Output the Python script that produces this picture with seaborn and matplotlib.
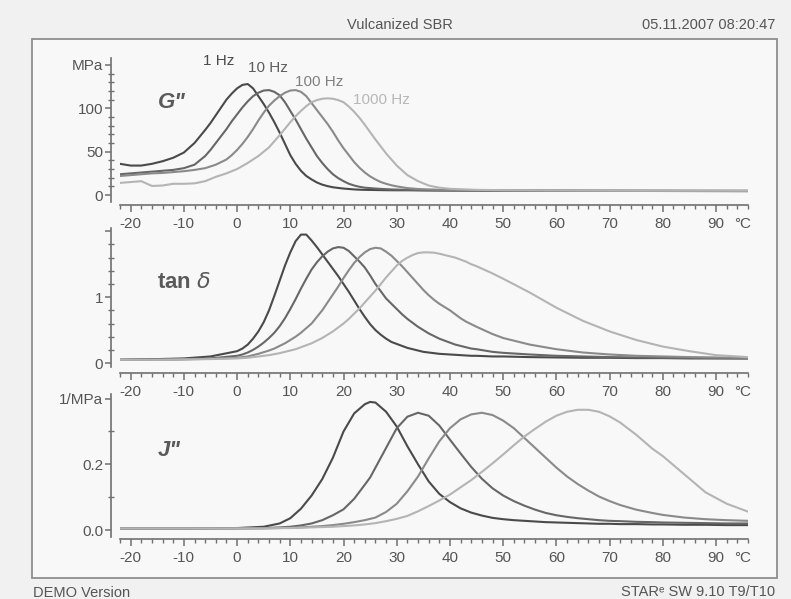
import numpy as np
import pandas as pd
import matplotlib
matplotlib.use("Agg")
import matplotlib.pyplot as plt
import seaborn as sns
from matplotlib.patches import Rectangle
from matplotlib.ticker import MultipleLocator, FixedLocator, FixedFormatter

# ---------------- data ----------------
freqs = ["1 Hz", "10 Hz", "100 Hz", "1000 Hz"]

# G'' (MPa)
T_g = ([-22, -20, -18, -16, -14, -12, -10, -8, -6]
       + [-5, -4, -3, -2, -1, 0, 1, 2, 3, 4, 5, 6, 7, 8, 9, 10, 11, 12, 13, 14, 15, 16, 17, 18, 19,
          20, 21, 22, 23, 24, 25, 26, 27, 28, 29, 30]
       + [32, 34, 36, 38, 40, 45, 50, 60, 70, 80, 96])
g_1hz = ([36, 34, 34, 36, 39, 43, 49, 60, 75]
         + [83, 92, 101, 110, 117, 123, 127, 128, 123, 114, 105, 95, 84, 72, 59, 46, 36, 28, 22, 18,
            14.5, 12, 10.3, 9, 8.2, 7.5, 7, 6.5, 6.2, 6, 5.9, 5.8, 5.7, 5.6, 5.55, 5.5]
         + [5.5, 5.4, 5.3, 5.2, 5.2, 5.1, 5.0, 4.9, 4.8, 4.7, 4.5])
g_10hz = ([24, 25, 26, 27, 28, 29, 31, 35, 45]
          + [52, 60, 68, 76, 85, 93, 101, 108, 114, 118, 120.5, 121, 119, 115, 107, 97, 87, 76, 65,
             55, 45, 37, 30, 24, 19.5, 16, 13, 11, 9.5, 8.5, 8, 7.5, 7.1, 6.8, 6.5, 6.3]
          + [6.0, 5.8, 5.6, 5.5, 5.4, 5.3, 5.2, 5.0, 4.9, 4.9, 4.8])
g_100hz = ([22, 23, 24, 25, 25.5, 26.5, 27.5, 29, 31]
           + [33, 35, 38, 41, 46, 52, 59, 67, 76, 86, 95, 103, 109, 114, 118, 120.5, 121, 119, 114,
              106, 98, 90, 82, 73, 63, 54, 46, 38, 31.5, 26, 21.5, 18, 15, 13, 11.3, 10]
           + [8, 7, 6.5, 6.2, 6.0, 5.7, 5.5, 5.3, 5.1, 5.0, 4.9])
g_1000hz = ([14, 15, 16, 10.5, 11, 13, 13, 13.5, 16]
            + [18.5, 21, 23, 25, 27.5, 30, 33.5, 37, 41, 45, 50, 55, 62, 69, 76.5, 84, 91, 97, 102.5,
               107, 109.5, 111, 111.5, 111, 109.5, 107, 102, 96, 89, 81, 72.5, 64, 56, 48, 41, 34]
            + [23, 16, 11, 8.5, 7.2, 6.0, 5.6, 5.3, 5.1, 5.0, 5.0])

# tan delta
T_t = ([-22, -15, -10, -5]
       + list(range(0, 46))
       + [48, 50, 55, 60, 65, 70, 75, 80, 85, 90, 96])
t_1hz = ([0.05, 0.06, 0.07, 0.10]
         + [0.18, 0.22, 0.28, 0.37, 0.48, 0.62, 0.80, 1.02, 1.25, 1.48, 1.68, 1.85, 1.95, 1.95, 1.86,
            1.76, 1.65, 1.54, 1.43, 1.32, 1.20, 1.08, 0.95, 0.82, 0.70, 0.59, 0.50, 0.43, 0.37, 0.32,
            0.29, 0.26, 0.23, 0.21, 0.19, 0.17, 0.16, 0.15, 0.14, 0.135, 0.13, 0.125, 0.12, 0.115,
            0.11, 0.11]
         + [0.10, 0.10, 0.09, 0.085, 0.08, 0.08, 0.075, 0.075, 0.07, 0.07, 0.07])
t_10hz = ([0.05, 0.055, 0.06, 0.07]
          + [0.11, 0.13, 0.16, 0.20, 0.25, 0.31, 0.38, 0.46, 0.56, 0.68, 0.82, 0.97, 1.13, 1.28, 1.42,
             1.53, 1.62, 1.69, 1.74, 1.76, 1.75, 1.70, 1.62, 1.54, 1.45, 1.33, 1.20, 1.09, 0.98, 0.90,
             0.82, 0.74, 0.67, 0.61, 0.55, 0.50, 0.45, 0.41, 0.37, 0.34, 0.31, 0.28, 0.26, 0.24,
             0.22, 0.21]
          + [0.17, 0.155, 0.13, 0.11, 0.10, 0.09, 0.085, 0.08, 0.08, 0.075, 0.07])
t_100hz = ([0.05, 0.05, 0.055, 0.065]
           + [0.08, 0.09, 0.10, 0.12, 0.14, 0.165, 0.19, 0.22, 0.26, 0.30, 0.35, 0.40, 0.46, 0.53,
              0.60, 0.70, 0.80, 0.92, 1.04, 1.16, 1.29, 1.41, 1.52, 1.61, 1.68, 1.73, 1.75, 1.74, 1.69,
              1.63, 1.55, 1.47, 1.38, 1.29, 1.20, 1.11, 1.03, 0.96, 0.90, 0.85, 0.80, 0.74, 0.68,
              0.63, 0.59, 0.55]
           + [0.44, 0.38, 0.28, 0.21, 0.16, 0.13, 0.11, 0.10, 0.09, 0.085, 0.08])
t_1000hz = ([0.05, 0.05, 0.055, 0.06]
            + [0.07, 0.075, 0.08, 0.09, 0.10, 0.11, 0.12, 0.135, 0.15, 0.17, 0.19, 0.21, 0.24, 0.27,
               0.30, 0.34, 0.38, 0.43, 0.48, 0.54, 0.60, 0.67, 0.75, 0.83, 0.92, 1.01, 1.10, 1.20,
               1.30, 1.39, 1.48, 1.55, 1.60, 1.64, 1.67, 1.68, 1.68, 1.675, 1.66, 1.64, 1.62, 1.60,
               1.57, 1.54, 1.50, 1.47]
            + [1.36, 1.28, 1.07, 0.84, 0.64, 0.48, 0.35, 0.25, 0.18, 0.12, 0.09])

# J'' (1/MPa)
T_j = [-22, -10, 0, 5, 8, 10, 12, 14, 16, 18, 20, 22, 24, 25, 26, 28, 30, 32, 34, 36, 38, 40, 42, 44,
       46, 48, 50, 52, 54, 56, 58, 60, 62, 64, 66, 68, 70, 72, 75, 78, 80, 84, 88, 92, 96]
j_1hz = [0.005, 0.005, 0.006, 0.010, 0.020, 0.036, 0.065, 0.105, 0.155, 0.220, 0.300, 0.355, 0.383,
         0.390, 0.388, 0.360, 0.315, 0.255, 0.200, 0.148, 0.110, 0.085, 0.066, 0.053, 0.044, 0.037,
         0.033, 0.030, 0.028, 0.026, 0.024, 0.023, 0.022, 0.021, 0.020, 0.019, 0.019, 0.018, 0.018,
         0.017, 0.017, 0.016, 0.016, 0.015, 0.015]
j_10hz = [0.005, 0.005, 0.005, 0.006, 0.008, 0.010, 0.014, 0.020, 0.030, 0.045, 0.063, 0.095, 0.138,
          0.160, 0.190, 0.250, 0.310, 0.345, 0.357, 0.348, 0.318, 0.275, 0.233, 0.192, 0.156, 0.127,
          0.105, 0.088, 0.074, 0.062, 0.052, 0.045, 0.040, 0.036, 0.033, 0.030, 0.028, 0.027, 0.025,
          0.024, 0.023, 0.022, 0.021, 0.020, 0.020]
j_100hz = [0.005, 0.005, 0.005, 0.005, 0.006, 0.007, 0.008, 0.010, 0.012, 0.015, 0.019, 0.024, 0.030,
           0.034, 0.038, 0.055, 0.080, 0.118, 0.163, 0.218, 0.270, 0.310, 0.337, 0.352, 0.357, 0.350,
           0.333, 0.310, 0.280, 0.250, 0.220, 0.190, 0.163, 0.140, 0.120, 0.102, 0.088, 0.076, 0.062,
           0.052, 0.046, 0.038, 0.033, 0.030, 0.028]
j_1000hz = [0.005, 0.005, 0.005, 0.005, 0.006, 0.006, 0.007, 0.008, 0.009, 0.010, 0.012, 0.014, 0.017,
            0.019, 0.021, 0.027, 0.034, 0.043, 0.057, 0.073, 0.090, 0.108, 0.130, 0.152, 0.177, 0.203,
            0.230, 0.258, 0.285, 0.308, 0.330, 0.348, 0.360, 0.366, 0.366, 0.360, 0.346, 0.327, 0.290,
            0.248, 0.225, 0.170, 0.115, 0.080, 0.056]

x_ticks = [-20, -10, 0, 10, 20, 30, 40, 50, 60, 70, 80, 90]
x_labels = ["-20", "-10", "0", "10", "20", "30", "40", "50", "60", "70", "80", "90"]

for T, ss in [(T_g, [g_1hz, g_10hz, g_100hz, g_1000hz]),
              (T_t, [t_1hz, t_10hz, t_100hz, t_1000hz]),
              (T_j, [j_1hz, j_10hz, j_100hz, j_1000hz])]:
    for s in ss:
        assert len(s) == len(T), (len(s), len(T))

# ---------------- styling ----------------
sns.set_theme(style="ticks")
plt.rcParams["font.family"] = ["Liberation Sans", "DejaVu Sans"]

line_colors = {"1 Hz": "#4a4a4a", "10 Hz": "#676767", "100 Hz": "#8a8a8a", "1000 Hz": "#b4b4b4"}
text_colors = {"1 Hz": "#4a4a4a", "10 Hz": "#5e5e5e", "100 Hz": "#808080", "1000 Hz": "#b8b8b8"}
axis_col = "#707070"
txt_col = "#555555"

W, H = 791, 599
fig = plt.figure(figsize=(W / 100, H / 100), dpi=100, facecolor="#f1f1f1")


def fx(px):
    return px / W


def fy(py):
    return 1 - py / H


# outer frame
fig.patches.append(Rectangle((fx(32), fy(578)), fx(777) - fx(32), fy(39) - fy(578),
                             transform=fig.transFigure, facecolor="#f8f8f8",
                             edgecolor="#8e8e8e", lw=1.3, zorder=-5))


def make_df(T, series):
    rows = []
    for f, vals in zip(freqs, series):
        for t, v in zip(T, vals):
            rows.append((t, v, f))
    return pd.DataFrame(rows, columns=["T", "val", "freq"])


def style_axes(ax, ylim, yticks, ylabels, yminor, bottom_out_px):
    ax.set_xlim(-22, 96)
    ax.set_ylim(*ylim)
    ax.set_facecolor("none")
    ax.patch.set_alpha(0)
    for s in ["top", "right"]:
        ax.spines[s].set_visible(False)
    for s in ["left", "bottom"]:
        ax.spines[s].set_color(axis_col)
        ax.spines[s].set_linewidth(1.2)
    ax.spines["left"].set_position(("outward", 9 * 0.72))
    ax.spines["bottom"].set_position(("outward", bottom_out_px * 0.72))
    ax.xaxis.set_major_locator(FixedLocator(x_ticks))
    ax.xaxis.set_major_formatter(FixedFormatter(x_labels))
    ax.xaxis.set_minor_locator(MultipleLocator(2))
    ax.yaxis.set_major_locator(FixedLocator(yticks))
    ax.yaxis.set_major_formatter(FixedFormatter(ylabels))
    ax.yaxis.set_minor_locator(MultipleLocator(yminor))
    ax.tick_params(axis="x", which="major", direction="out", length=5, width=1.1,
                   color=axis_col, labelsize=11, labelcolor=txt_col, pad=4)
    ax.tick_params(axis="x", which="minor", direction="out", length=3, width=1.0, color=axis_col)
    ax.tick_params(axis="y", which="major", direction="out", length=4.5, width=1.1,
                   color=axis_col, labelsize=11, labelcolor=txt_col, pad=1)
    ax.tick_params(axis="y", which="minor", direction="inout", length=4, width=1.0, color=axis_col)
    ax.set_xlabel("")
    ax.set_ylabel("")
    ax.grid(False)
    trans, va, ha = ax.get_xaxis_text1_transform(5 + 4)
    ax.text(93.3, 0, "°C", transform=trans, va=va, ha="left", fontsize=11, color=txt_col)


left = fx(120)
width = fx(748) - fx(120)
line_kw = dict(linewidth=1.5, solid_joinstyle="round", solid_capstyle="round")

# panel 1 : G''
ax1 = fig.add_axes([left, fy(202), width, fy(58) - fy(202)])
sns.lineplot(data=make_df(T_g, [g_1hz, g_10hz, g_100hz, g_1000hz]), x="T", y="val", hue="freq",
             hue_order=freqs, palette=line_colors, legend=False, ax=ax1, **line_kw)
style_axes(ax1, (-8, 158), [0, 50, 100, 150], ["0", "50", "100", "MPa"], 10, 3)

# panel 2 : tan delta
ax2 = fig.add_axes([left, fy(367), width, fy(228) - fy(367)])
sns.lineplot(data=make_df(T_t, [t_1hz, t_10hz, t_100hz, t_1000hz]), x="T", y="val", hue="freq",
             hue_order=freqs, palette=line_colors, legend=False, ax=ax2, **line_kw)
style_axes(ax2, (-0.06, 2.05), [0, 1, 2], ["0", "1", ""], 0.2, 6)

# panel 3 : J''
ax3 = fig.add_axes([left, fy(536.6), width, fy(393.7) - fy(536.6)])
sns.lineplot(data=make_df(T_j, [j_1hz, j_10hz, j_100hz, j_1000hz]), x="T", y="val", hue="freq",
             hue_order=freqs, palette=line_colors, legend=False, ax=ax3, **line_kw)
style_axes(ax3, (-0.02, 0.415), [0, 0.2, 0.4], ["0.0", "0.2", "1/MPa"], 0.1, 2.4)

# panel labels
fig.text(fx(158), fy(102), 'G"', fontsize=16, fontweight="bold", fontstyle="italic",
         color="#5a5a5a", va="center", ha="left")
fig.text(fx(157), fy(282), r"tan $\delta$", fontsize=16, fontweight="bold",
         color="#5a5a5a", va="center", ha="left")
fig.text(fx(158), fy(450), 'J"', fontsize=16, fontweight="bold", fontstyle="italic",
         color="#5a5a5a", va="center", ha="left")

# frequency labels
hz_pos = {"1 Hz": (203, 61), "10 Hz": (248, 68), "100 Hz": (295, 82), "1000 Hz": (353, 100)}
for f in freqs:
    px, py = hz_pos[f]
    fig.text(fx(px), fy(py), f, fontsize=11, color=text_colors[f], va="center", ha="left")

# header / footer
fig.text(fx(400), fy(25), "Vulcanized SBR", fontsize=10.5, color=txt_col, ha="center", va="center")
fig.text(fx(775), fy(25), "05.11.2007 08:20:47", fontsize=10.5, color=txt_col, ha="right", va="center")
fig.text(fx(33), fy(593), "DEMO Version", fontsize=10.5, color=txt_col, ha="left", va="center")
fig.text(fx(775), fy(592), "STARᵉ SW 9.10 T9/T10", fontsize=10.5, color=txt_col, ha="right",
         va="center", family=["Liberation Sans", "DejaVu Sans"])

fig.savefig("out.png", dpi=100, facecolor=fig.get_facecolor())
